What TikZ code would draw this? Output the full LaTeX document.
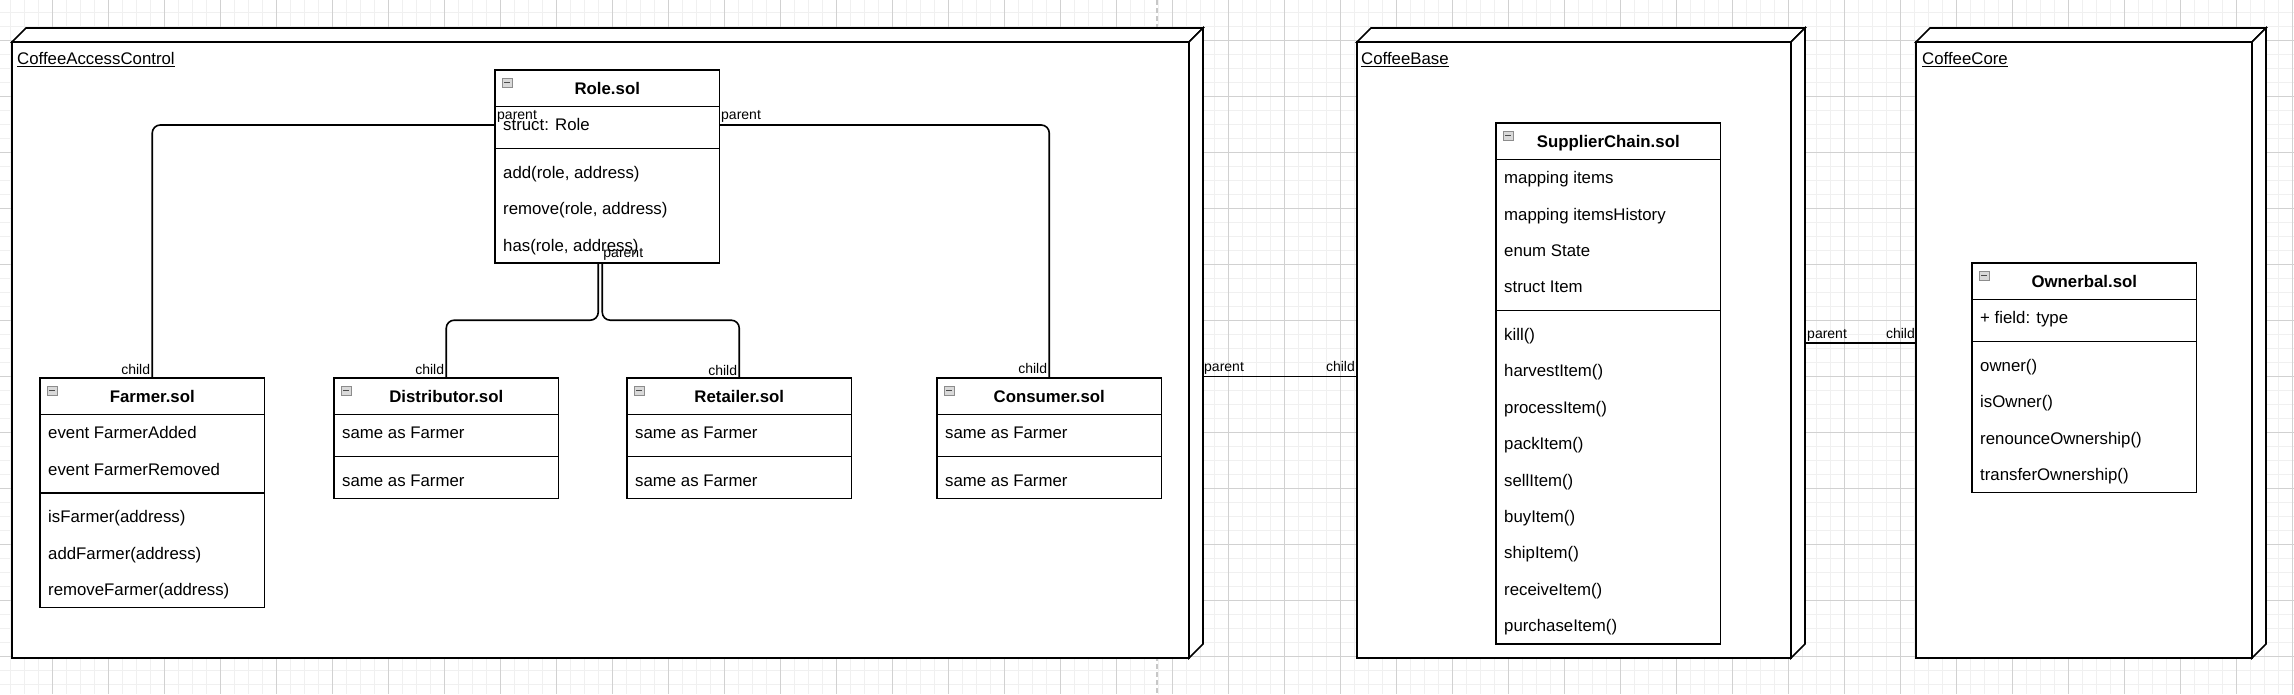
\documentclass[tikz,border=0pt]{standalone}
\usepackage{fontspec}
\setmainfont{Liberation Sans}
\tikzset{
  minorgrid/.style={line width=1pt, black!6},
  majorgrid/.style={line width=0.8pt, black!18},
  pagebreak/.style={line width=1.3pt, black!22, dash pattern=on 5pt off 3pt},
  pkgframe/.style={draw=none, inner sep=0pt, outer sep=0pt, anchor=north west},
  pkgline/.style={draw=black, fill=white, line width=1.6pt, line join=miter},
  pkglabel/.style={font=\fontsize{16.8}{20}\selectfont, inner sep=0pt, anchor=base west},
  classbox/.style={draw=black, fill=white, line width=1.7pt, inner sep=0pt, outer sep=0pt, minimum width=224.5pt},
  classline/.style={draw=black, line width=1.7pt},
  classtitle/.style={font=\bfseries\fontsize{16.8}{20}\selectfont, inner sep=0pt, text height=12pt, text depth=0pt},
  rowtext/.style={font=\fontsize{16.8}{20}\selectfont, inner sep=0pt, anchor=west, text height=12pt, text depth=0pt},
  iconbox/.style={draw=black!45, fill=black!15, line width=0.8pt},
  iconminus/.style={draw=black!70, line width=1.6pt},
  conn/.style={draw=black, line width=1.6pt, rounded corners=8pt},
  elabel/.style={font=\fontsize{14}{16}\selectfont, inner sep=0pt}
}
\newcommand{\umlclassbox}[8]{%
  \pgfmathsetmacro{\uTot}{36.4*(#5+#7)+47.6}%
  \pgfmathsetmacro{\uSep}{36.4+36.4*#5+5.6}%
  \node[classbox, minimum height=\uTot pt, anchor=north west] (#1) at (#2,#3) {};
  \draw[classline] ([yshift=-36.4pt]#1.north west) -- ([yshift=-36.4pt]#1.north east);
  \draw[classline] ([yshift=-\uSep pt]#1.north west) -- ([yshift=-\uSep pt]#1.north east);
  \node[classtitle] (#1-title) at ([yshift=-18.7pt]#1.north) {#4};
  \draw[iconbox] ([xshift=7pt,yshift=-8pt]#1.north west) rectangle ++(10,9);
  \draw[iconminus] ([xshift=9pt,yshift=-12.5pt]#1.north west) -- ++(6,0);
  \foreach \ritem [count=\i] in {#6} {%
    \pgfmathsetmacro{\uy}{#3+36.4*(\i+0.5)}%
    \node[rowtext] (#1-a\i) at (#2+8,\uy) {\ritem};}
  \foreach \ritem [count=\i] in {#8} {%
    \pgfmathsetmacro{\uy}{#3+36.4*(#5+\i+0.5)+11.2}%
    \node[rowtext] (#1-m\i) at (#2+8,\uy) {\ritem};}
}
\newcommand{\pkgthreed}[1]{%
  \draw[pkgline] ([yshift=-14pt]#1.north west) -- ([xshift=14pt]#1.north west) -- (#1.north east) -- ([xshift=-14pt,yshift=-14pt]#1.north east) -- cycle;
  \draw[pkgline] ([xshift=-14pt,yshift=-14pt]#1.north east) -- (#1.north east) -- ([yshift=14pt]#1.south east) -- ([xshift=-14pt]#1.south east) -- cycle;
  \draw[pkgline] (#1.south west) rectangle ([xshift=-14pt,yshift=-14pt]#1.north east);
}
\begin{document}
\begin{tikzpicture}[x=1pt,y=-1pt]
\useasboundingbox (0,0) rectangle (2294,694);
\fill[white] (0,0) rectangle (2294,694);
% grid
\foreach \gx in {10,24,...,2294} \draw[minorgrid] (\gx,0) -- (\gx,694);
\foreach \gy in {12,26,...,694} \draw[minorgrid] (0,\gy) -- (2294,\gy);
\foreach \gx in {52,108,...,2294} \draw[majorgrid] (\gx,0) -- (\gx,694);
\foreach \gy in {40,96,...,694} \draw[majorgrid] (0,\gy) -- (2294,\gy);
\draw[pagebreak] (1157,0) -- (1157,694);

% packages
\node[pkgframe, minimum width=1191pt, minimum height=630pt] (cac) at (12,28) {};
\node[pkgframe, minimum width=448pt, minimum height=630pt] (cb) at (1357,28) {};
\node[pkgframe, minimum width=350pt, minimum height=630pt] (core) at (1916,28) {};
\pkgthreed{cac}
\pkgthreed{cb}
\pkgthreed{core}
\node[pkglabel] (cac-name) at ([xshift=5pt,yshift=-36pt]cac.north west) {CoffeeAccessControl};
\node[pkglabel] (cb-name) at ([xshift=4pt,yshift=-36pt]cb.north west) {CoffeeBase};
\node[pkglabel] (core-name) at ([xshift=6pt,yshift=-36pt]core.north west) {CoffeeCore};
\foreach \nm in {cac-name,cb-name,core-name}
  \draw[line width=1pt] ([yshift=-2.2pt]\nm.base west) -- ([yshift=-2.2pt]\nm.base east);

% classes
\umlclassbox{role}{495}{70}{Role.sol}{1}{{struct: Role}}{3}{{add(role, address)},{remove(role, address)},{has(role, address)}}
\umlclassbox{farmer}{40}{378}{Farmer.sol}{2}{{event FarmerAdded},{event FarmerRemoved}}{3}{{isFarmer(address)},{addFarmer(address)},{removeFarmer(address)}}
\umlclassbox{dist}{334}{378}{Distributor.sol}{1}{{same as Farmer}}{1}{{same as Farmer}}
\umlclassbox{retailer}{627}{378}{Retailer.sol}{1}{{same as Farmer}}{1}{{same as Farmer}}
\umlclassbox{consumer}{937}{378}{Consumer.sol}{1}{{same as Farmer}}{1}{{same as Farmer}}
\umlclassbox{supplier}{1496}{123}{SupplierChain.sol}{4}{{mapping items},{mapping itemsHistory},{enum State},{struct Item}}{9}{{kill()},{harvestItem()},{processItem()},{packItem()},{sellItem()},{buyItem()},{shipItem()},{receiveItem()},{purchaseItem()}}
\umlclassbox{owner}{1972}{263}{Ownerbal.sol}{1}{{+ field: type}}{4}{{owner()},{isOwner()},{renounceOwnership()},{transferOwnership()}}

% connectors
\draw[conn] ([yshift=-55pt]role.north west) -| (farmer.north);
\draw[conn] ([yshift=-55pt]role.north east) -| (consumer.north);
\draw[conn] ([xshift=-9pt]role.south) -- ++(0,57) -| (dist.north);
\draw[conn] ([xshift=-5pt]role.south) -- ++(0,57) -| (retailer.north);
\draw[conn] ([yshift=-33.5pt]cac.east) -- ([yshift=-33.5pt]cb.west);
\draw[conn] (cb.east) -- (core.west);

% connector labels
\node[elabel, anchor=base west] (l-p1) at ([xshift=2pt,yshift=-49pt]role.north west) {parent};
\node[elabel, anchor=base east] (l-c1) at ([xshift=-2pt,yshift=4pt]farmer.north) {child};
\node[elabel, anchor=base west] (l-p2) at ([xshift=1.5pt,yshift=-49pt]role.north east) {parent};
\node[elabel, anchor=base east] (l-c2) at ([xshift=-2pt,yshift=5pt]consumer.north) {child};
\node[elabel, anchor=base west] (l-p3) at ([xshift=-4pt,yshift=6pt]role.south) {parent};
\node[elabel, anchor=base east] (l-c3) at ([xshift=-2pt,yshift=4pt]dist.north) {child};
\node[elabel, anchor=base east] (l-c4) at ([xshift=-2pt,yshift=3pt]retailer.north) {child};
\node[elabel, anchor=base west] (l-p5) at ([xshift=1pt,yshift=-28pt]cac.east) {parent};
\node[elabel, anchor=base east] (l-c5) at ([xshift=-2pt,yshift=-28pt]cb.west) {child};
\node[elabel, anchor=base west] (l-p6) at ([xshift=2pt,yshift=5pt]cb.east) {parent};
\node[elabel, anchor=base east] (l-c6) at ([xshift=-1pt,yshift=5pt]core.west) {child};
\end{tikzpicture}
\end{document}
